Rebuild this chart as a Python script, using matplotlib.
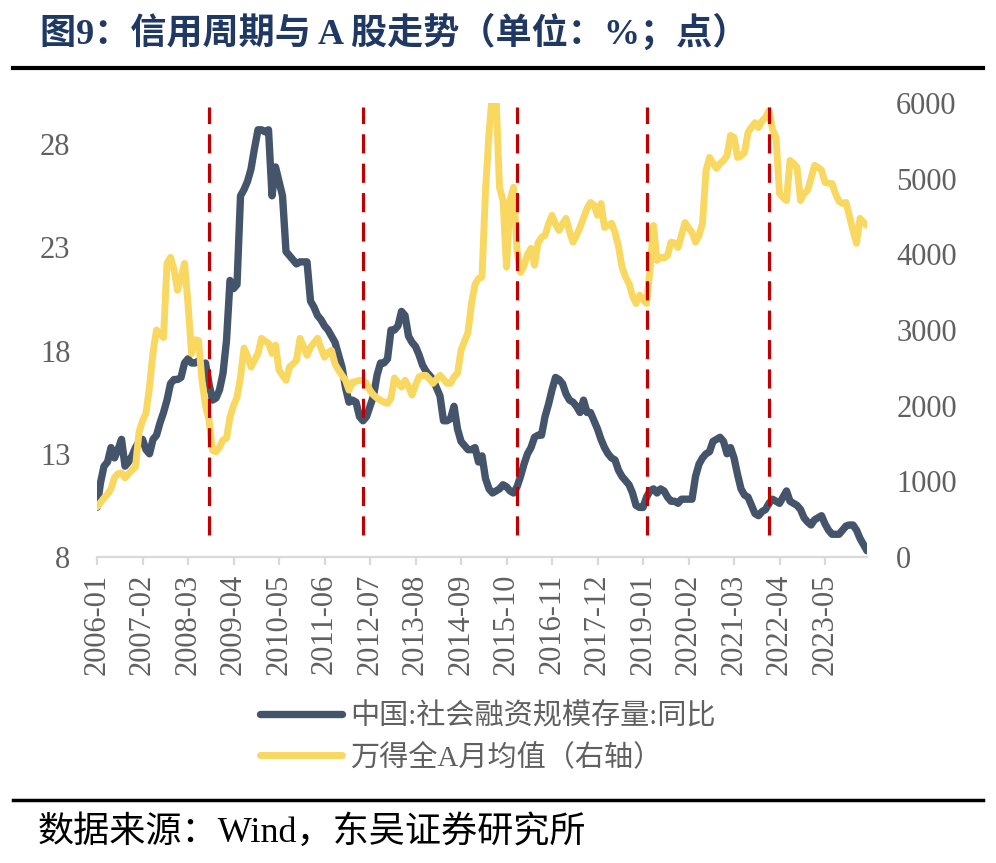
import matplotlib
matplotlib.use("Agg")
import matplotlib.pyplot as plt
from matplotlib.lines import Line2D

# monthly data 2006-01 .. 2024-05
credit_yoy = [
    10.4, 11.6, 12.4, 12.6, 13.3, 12.8, 13.2, 13.7, 12.4, 12.6, 12.9, 13.3,
    13.6, 13.7, 13.2, 13.0, 13.7, 13.9, 14.5, 15.0, 15.6, 16.4, 16.6, 16.6,
    16.7, 17.4, 17.6, 17.4, 17.4, 17.5, 17.3, 17.4, 16.4, 15.6, 15.7, 16.1,
    16.9, 18.5, 21.4, 21.0, 21.2, 25.5, 25.8, 26.2, 26.8, 27.8, 28.7, 28.7,
    28.6, 28.7, 25.5, 26.9, 26.2, 25.5, 22.8, 22.6, 22.4, 22.2, 22.3, 22.3,
    22.3, 20.4, 20.1, 19.7, 19.5, 19.2, 19.0, 18.7, 18.4, 17.8, 17.2, 16.2,
    15.5, 15.6, 15.5, 14.8, 14.6, 14.8, 15.3, 15.8, 16.8, 17.4, 17.4, 17.6,
    19.0, 19.0, 19.2, 19.9, 19.7, 18.7, 18.4, 18.2, 17.8, 17.3, 17.0, 16.8,
    16.6, 16.2, 15.8, 14.6, 14.6, 14.7, 15.3, 14.2, 13.6, 13.4, 13.2, 13.2,
    13.3, 12.6, 12.9, 11.8, 11.3, 11.1, 11.2, 11.3, 11.5, 11.4, 11.2, 11.1,
    11.4, 11.9, 12.5, 13.0, 13.3, 13.8, 13.9, 13.9, 14.8, 15.4, 16.1, 16.7,
    16.6, 16.4, 15.9, 15.6, 15.5, 15.3, 15.0, 15.6, 15.0, 15.0, 14.6, 14.2,
    13.7, 13.3, 13.0, 12.8, 12.7, 12.2, 11.9, 11.7, 11.5, 11.1, 10.5, 10.4,
    10.4, 10.9, 11.2, 11.3, 11.1, 11.3, 11.2, 10.9, 10.7, 10.7, 10.6, 10.8,
    10.8, 10.8, 10.8, 11.9, 12.5, 12.8, 13.0, 13.1, 13.6, 13.7, 13.8, 13.6,
    13.0, 13.3, 12.8, 12.0, 11.3, 11.0, 10.9, 10.5, 10.1, 10.0, 10.2, 10.3,
    10.6, 10.8, 10.7, 10.6, 10.9, 11.2, 10.7, 10.6, 10.5, 10.3, 9.9, 9.7,
    9.55, 9.8, 9.9, 10.0, 9.6, 9.3, 9.1, 9.1, 9.1, 9.3, 9.5, 9.55,
    9.55, 9.3, 8.9, 8.6, 8.3,
]

wind_a = [
    660, 720, 780, 830, 900, 1050, 1100, 1110, 1045, 1100, 1150, 1190,
    1650, 1800, 1900, 2250, 2700, 3000, 2950, 2900, 3880, 3960, 3800, 3525,
    3700, 3880, 3350, 2690, 2870, 2860, 2335, 2000, 1810, 1410, 1390, 1450,
    1545, 1570, 1850, 2000, 2110, 2375, 2760, 2650, 2510, 2600, 2690, 2890,
    2850, 2825, 2690, 2800, 2470, 2400, 2335, 2510, 2550, 2600, 2890, 2780,
    2665, 2770, 2830, 2890, 2760, 2640, 2700, 2730, 2550, 2470, 2400, 2335,
    2205, 2310, 2320, 2335, 2330, 2295, 2200, 2140, 2100, 2070, 2045, 2030,
    2100, 2365, 2300, 2245, 2335, 2250, 2140, 2270, 2380, 2400, 2400, 2350,
    2295, 2350, 2400, 2350, 2295, 2295, 2380, 2430, 2730, 2850, 2970, 3350,
    3600, 3680, 3700, 4845, 5600, 6150, 6100, 4885, 4710, 3830, 4710, 4885,
    4050, 3760, 3850, 4000, 4080, 3855, 4150, 4225, 4250, 4400, 4515, 4400,
    4315, 4400, 4475, 4300, 4160, 4250, 4355, 4480, 4605, 4685, 4650, 4515,
    4670, 4355, 4380, 4410, 4290, 4100, 3830, 3700, 3615, 3450, 3350, 3460,
    3400, 3350, 3790, 4380, 3920, 3960, 3950, 3985, 4160, 4150, 4090, 4250,
    4420, 4350, 4290, 4160, 4250, 4410, 5110, 5280, 5200, 5135, 5200, 5240,
    5305, 5570, 5545, 5280, 5300, 5345, 5610, 5680, 5740, 5675, 5760, 5810,
    5900, 5650, 5545, 4805, 4750, 4710, 5240, 5200, 5150, 4710, 4800, 4845,
    5000, 5175, 5150, 5110, 4950, 4940, 4935, 4800, 4700, 4670, 4685, 4500,
    4315, 4145, 4475, 4420, 4380,
]

tick_labels = ["2006-01", "2007-02", "2008-03", "2009-04", "2010-05", "2011-06",
               "2012-07", "2013-08", "2014-09", "2015-10", "2016-11", "2017-12",
               "2019-01", "2020-02", "2021-03", "2022-04", "2023-05"]
cycle_marks = [32, 76, 120, 157, 192]   # month index of red dashed lines

label1 = "中国:社会融资规模存量:同比"
label2 = "万得全A月均值（右轴）"

serif_cjk = ["Liberation Serif", "Noto Sans CJK SC"]
plt.rcParams["font.family"] = serif_cjk
plt.rcParams["axes.unicode_minus"] = False

fig = plt.figure(figsize=(9.96, 8.63), dpi=100)
ax1 = fig.add_axes([0.0974, 0.3546, 0.7731, 0.5261])
ax2 = ax1.twinx()

x = list(range(len(credit_yoy)))
l1, = ax1.plot(x, credit_yoy, color="#44546A", lw=5.3, solid_capstyle="round",
               solid_joinstyle="round")
l2, = ax2.plot(x, wind_a, color="#F9D862", lw=5, solid_capstyle="round",
               solid_joinstyle="round")
for m in cycle_marks:
    ax2.axvline(m, ymin=0.048, ymax=0.99, color="#C00000", lw=2.3,
                dashes=(6, 3.2))

ax1.set_xlim(0, len(credit_yoy) - 1)
ax1.set_ylim(8, 30)
ax1.set_yticks([8, 13, 18, 23, 28])
ax2.set_ylim(0, 6000)
ax2.set_yticks(range(0, 6001, 1000))

ax1.set_xticks(range(0, len(credit_yoy), 13))
ax1.set_xticklabels(tick_labels, rotation=90)

gray = "#606060"
for ax in (ax1, ax2):
    for s in ("top", "left", "right", "bottom"):
        ax.spines[s].set_visible(False)
ax1.spines["bottom"].set_visible(True)
ax1.spines["bottom"].set_color("#D9D9D9")
ax1.spines["bottom"].set_linewidth(1.6)

ax1.tick_params(axis="x", length=6, width=1.6, color="#D9D9D9", pad=6,
                labelsize=22, labelcolor=gray)
ax1.tick_params(axis="y", length=0, pad=19, labelsize=22, labelcolor=gray)
ax2.tick_params(axis="y", length=0, pad=21, labelsize=22, labelcolor=gray)

fig.legend([l1, l2], [label1, label2], loc="center left",
           bbox_to_anchor=(0.261, 0.146), frameon=False, fontsize=21,
           handlelength=2.8, handletextpad=0.3, labelspacing=0.42,
           borderpad=0, borderaxespad=0, labelcolor=gray)

fig.text(0.04, 0.962, "图9：信用周期与 A 股走势（单位：%；点）", fontsize=26,
         fontweight="bold", color="#1F3864", va="center", ha="left")
fig.add_artist(Line2D([0.013, 0.987], [0.921, 0.921], color="black", lw=3))
fig.add_artist(Line2D([0.013, 0.987], [0.073, 0.073], color="black", lw=2.5))
fig.text(0.038, 0.035, "数据来源：Wind，东吴证券研究所", fontsize=26,
         color="black", va="center", ha="left")

fig.savefig("out.png", dpi=100)
